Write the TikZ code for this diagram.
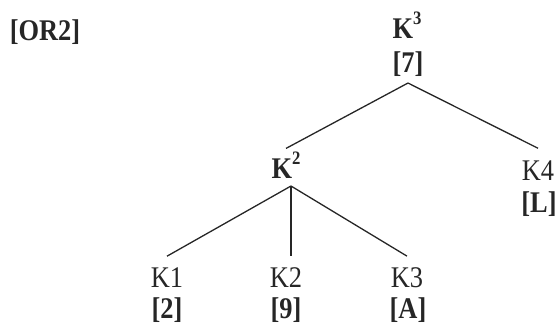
\documentclass[tikz,border=0pt]{standalone}
\usepackage{fontspec}
\setmainfont{Liberation Serif}[FakeStretch=0.88]
\newcommand\supnum[1]{\raisebox{14pt}{\fontsize{19}{19}\selectfont #1}}
\begin{document}
\begin{tikzpicture}[x=1pt,y=-1pt,
  lbl/.style={font=\fontsize{30}{34}\selectfont, inner sep=0pt, outer sep=0pt, anchor=base, text=black!85},
  blbl/.style={lbl, font=\fontsize{30}{34}\selectfont\bfseries},
  edge/.style={line width=1.3pt, draw=black!85}]
\useasboundingbox (0,0) rectangle (558,325);
% labels
\node[blbl] (or2) at (45,40) {[OR2]};
\node[blbl] (k3) at (407,38) {K\supnum{3}};
\node[blbl] (v7) at (408,72) {[7]};
\node[blbl] (k2) at (286,178) {K\supnum{2}};
\node[lbl]  (k4) at (538,180) {K4};
\node[blbl] (vl) at (539,212) {[L]};
\node[lbl]  (c1) at (167,287) {K1};
\node[lbl]  (c2) at (286,287) {K2};
\node[lbl]  (c3) at (407,287) {K3};
\node[blbl] (v2) at (167,318) {[2]};
\node[blbl] (v9) at (286,318) {[9]};
\node[blbl] (va) at (408,318) {[A]};
% connectors
\coordinate (top) at ([yshift=-7pt]v7.south);
\coordinate (k2b) at ([xshift=5pt,yshift=-8pt]k2.south);
\coordinate (c2t) at ([yshift=11pt]c2.north);
\draw[edge] (top) -- ([yshift=3pt]k2.north);
\draw[edge] (top) -- ([yshift=12pt]k4.north);
\draw[edge] (k2b) -- ([yshift=11pt]c1.north);
\draw[edge] (k2b) -- (k2b |- c2t);
\draw[edge] (k2b) -- ([yshift=11pt]c3.north);
\end{tikzpicture}
\end{document}
